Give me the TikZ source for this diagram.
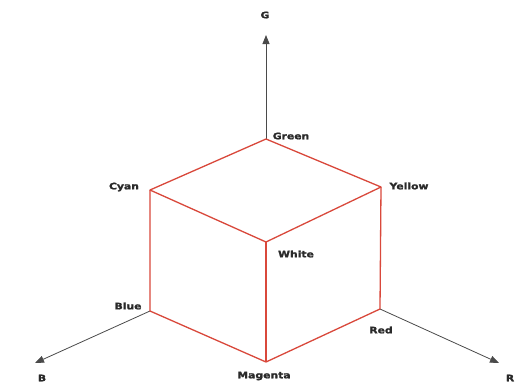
\documentclass[tikz,border=0pt]{standalone}
\usepackage{fontspec}
\newfontfamily\labfont[FakeStretch=1.2,FakeBold=1.6]{DejaVu Sans Bold}
\usetikzlibrary{arrows.meta}
\definecolor{edgered}{HTML}{D9483B}
\definecolor{axisgray}{HTML}{4A4A4A}
\definecolor{labgray}{HTML}{2A2A2A}
\begin{document}
\begin{tikzpicture}[x=1pt,y=-1pt,
  vtx/.style={inner sep=0pt,minimum size=0pt},
  lab/.style={font=\labfont\fontsize{9}{10}\selectfont,text=labgray,inner sep=0pt},
  cubeedge/.style={draw=edgered,line width=1.3pt,line join=round},
  axisline/.style={draw=axisgray,line width=0.8pt,-{Triangle[length=9pt,width=7pt]}}]
\useasboundingbox (0,0) rectangle (517,386);
\fill[white] (0,0) rectangle (517,386);
% vertices
\coordinate (green) at (266,139);
\coordinate (cyan) at (150,190);
\coordinate (yellow) at (381,187);
\coordinate (white) at (266,242);
\coordinate (blue) at (150,311);
\coordinate (red) at (380,309);
\coordinate (magenta) at (266,362);
% axis tips
\coordinate (gtip) at (266,35);
\coordinate (btip) at (35,363);
\coordinate (rtip) at (499,363);
% axes
\draw[axisline] (green) -- (gtip);
\draw[axisline] (blue) -- (btip);
\draw[axisline] (red) -- (rtip);
% cube
\draw[cubeedge] (cyan) -- (green) -- (yellow) -- (white) -- cycle;
\draw[cubeedge] (cyan) -- (blue) -- (magenta) -- (red) -- (yellow);
\draw[cubeedge] (white) -- (magenta);
% labels
\node[lab] (gl) at (265,15) {G};
\node[lab] (bl) at (42,378) {B};
\node[lab] (rl) at (510,378) {R};
\node[lab] (greenl) at (291,136) {Green};
\node[lab] (cyanl) at (124,187) {Cyan};
\node[lab] (yellowl) at (409,186) {Yellow};
\node[lab] (whitel) at (296,254) {White};
\node[lab] (bluel) at (128,306) {Blue};
\node[lab] (redl) at (381,330) {Red};
\node[lab] (magental) at (264,376) {Magenta};
\end{tikzpicture}
\end{document}
